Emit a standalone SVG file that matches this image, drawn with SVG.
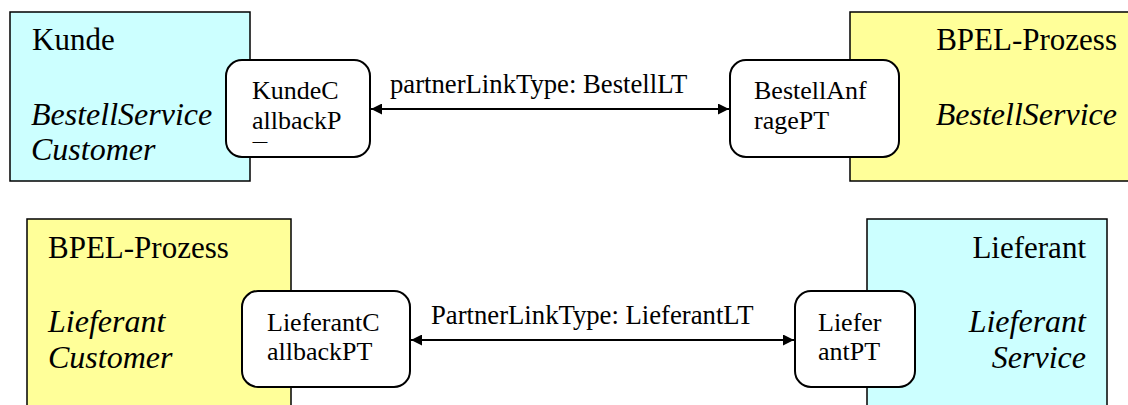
<svg xmlns="http://www.w3.org/2000/svg" width="1128" height="405" viewBox="0 0 1128 405">
<style>
text{font-family:'Liberation Serif','Times New Roman',serif;fill:#000}
.big{font-size:31px}
.it{font-style:italic;font-size:32px}
.port{font-size:26px}
.lbl{font-size:26.7px}
.cyan{fill:#ccffff;stroke:#000;stroke-width:1.5}
.yel{fill:#ffff99;stroke:#000;stroke-width:1.5}
.pt{fill:#fff;stroke:#000;stroke-width:2}
.con{stroke:#000;stroke-width:2;fill:none}
</style>
<defs>
<marker id="ah" viewBox="0 0 10 10" refX="10" refY="5" markerWidth="14" markerHeight="11" markerUnits="userSpaceOnUse" orient="auto-start-reverse">
<path d="M0,0L10,5L0,10z" fill="#000"/>
</marker>
<clipPath id="clipK"><rect x="226" y="60" width="144" height="83"/></clipPath>
</defs>
<rect width="1128" height="405" fill="#fff"/>
<g id="kunde">
<rect class="cyan" x="10" y="12" width="240" height="169"/>
<text class="big" x="32" y="50">Kunde</text>
<text class="it" x="31" y="125">BestellService</text>
<text class="it" x="31" y="160">Customer</text>
</g>
<g id="bpel1">
<rect class="yel" x="850" y="12" width="290" height="169"/>
<text class="big" x="1117" y="50" text-anchor="end">BPEL-Prozess</text>
<text class="it" x="1117" y="125" text-anchor="end">BestellService</text>
</g>
<g id="bpel2">
<rect class="yel" x="27" y="219" width="264" height="200"/>
<text class="big" x="48" y="258">BPEL-Prozess</text>
<text class="it" x="48" y="332">Lieferant</text>
<text class="it" x="48" y="368">Customer</text>
</g>
<g id="lieferant">
<rect class="cyan" x="867" y="219" width="240" height="200"/>
<text class="big" x="1086" y="258" text-anchor="end">Lieferant</text>
<text class="it" x="1086" y="332" text-anchor="end">Lieferant</text>
<text class="it" x="1086" y="368" text-anchor="end">Service</text>
</g>
<g id="kundeCallbackPT">
<rect class="pt" x="226" y="60" width="144" height="97" rx="16"/>
<text class="port" x="252" y="99">KundeC</text>
<text class="port" x="252" y="129">allbackP</text>
<text class="port" x="252" y="159" clip-path="url(#clipK)">T</text>
</g>
<g id="bestellAnfragePT">
<rect class="pt" x="730" y="60" width="169" height="97" rx="16"/>
<text class="port" x="754" y="99">BestellAnf</text>
<text class="port" x="754" y="129">ragePT</text>
</g>
<g id="lieferantCallbackPT">
<rect class="pt" x="242" y="291" width="168" height="96" rx="16"/>
<text class="port" x="267" y="331">LieferantC</text>
<text class="port" x="267" y="360">allbackPT</text>
</g>
<g id="lieferantPT">
<rect class="pt" x="795" y="291" width="120" height="96" rx="16"/>
<text class="port" x="818" y="331">Liefer</text>
<text class="port" x="818" y="360">antPT</text>
</g>
<g id="connectors">
<line class="con" x1="371" y1="109" x2="729" y2="109" marker-start="url(#ah)" marker-end="url(#ah)"/>
<text class="lbl" x="390" y="93">partnerLinkType: BestellLT</text>
<line class="con" x1="411" y1="340" x2="794" y2="340" marker-start="url(#ah)" marker-end="url(#ah)"/>
<text class="lbl" x="431" y="324">PartnerLinkType: LieferantLT</text>
</g>
</svg>
